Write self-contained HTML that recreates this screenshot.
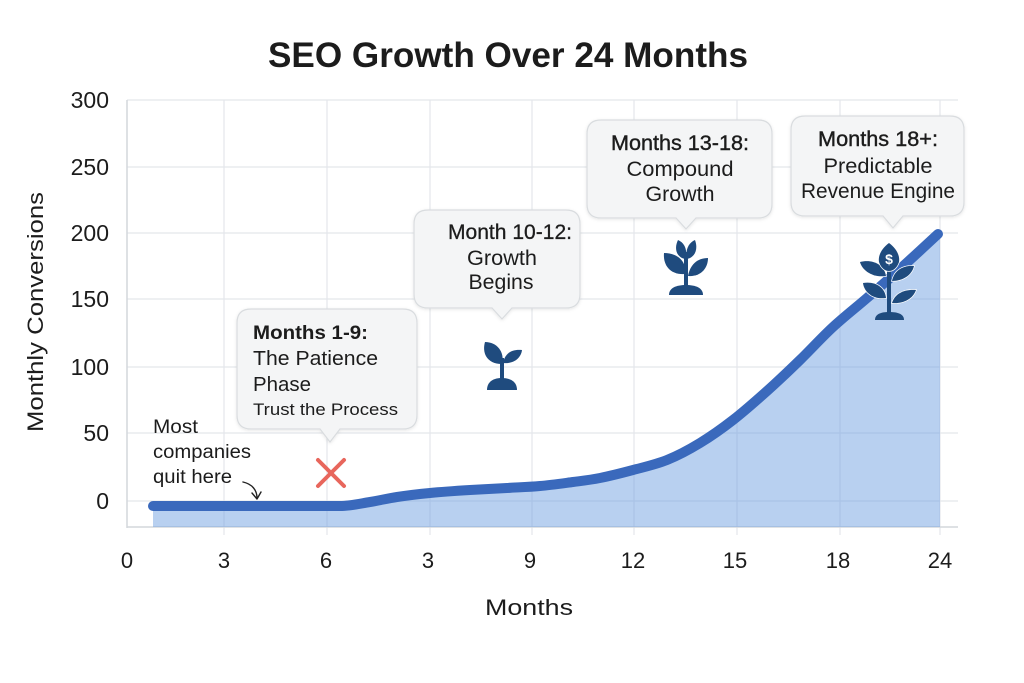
<!DOCTYPE html>
<html><head><meta charset="utf-8"><style>
html,body{margin:0;padding:0;background:#fff;}
svg{display:block;}
text{font-family:"Liberation Sans",Arial,sans-serif;fill:#1c1c1c;}
</style></head><body>
<svg width="1024" height="683" viewBox="0 0 1024 683" xmlns="http://www.w3.org/2000/svg">
<defs>
<filter id="sh" x="-10%" y="-10%" width="120%" height="130%"><feDropShadow dx="0" dy="1" stdDeviation="1.5" flood-color="#000" flood-opacity="0.10"/></filter>
</defs>
<rect width="1024" height="683" fill="#fff"/>
<!-- title -->
<text x="508" y="67" font-size="35" font-weight="bold" text-anchor="middle" textLength="480" lengthAdjust="spacingAndGlyphs">SEO Growth Over 24 Months</text>

<!-- grid -->
<g stroke="#e4e7eb" stroke-width="1.2">
<line x1="127" y1="100" x2="958" y2="100"/>
<line x1="127" y1="167" x2="958" y2="167"/>
<line x1="127" y1="233" x2="958" y2="233"/>
<line x1="127" y1="299" x2="958" y2="299"/>
<line x1="127" y1="367" x2="958" y2="367"/>
<line x1="127" y1="433" x2="958" y2="433"/>
<line x1="127" y1="501" x2="958" y2="501"/>
<line x1="224" y1="100" x2="224" y2="535"/>
<line x1="327" y1="100" x2="327" y2="535"/>
<line x1="430" y1="100" x2="430" y2="535"/>
<line x1="532" y1="100" x2="532" y2="535"/>
<line x1="634" y1="100" x2="634" y2="535"/>
<line x1="737" y1="100" x2="737" y2="535"/>
<line x1="840" y1="100" x2="840" y2="535"/>
<line x1="940" y1="100" x2="940" y2="535"/>
</g>
<g stroke="#d3d7dc" stroke-width="1.5">
<line x1="127" y1="100" x2="127" y2="528"/>
<line x1="127" y1="527" x2="958" y2="527"/>
</g>

<!-- y tick labels -->
<g font-size="23" text-anchor="end">
<text x="109" y="108">300</text>
<text x="109" y="175">250</text>
<text x="109" y="241">200</text>
<text x="109" y="307">150</text>
<text x="109" y="375">100</text>
<text x="109" y="441">50</text>
<text x="109" y="509">0</text>
</g>
<text transform="translate(43,312) rotate(-90)" font-size="22" text-anchor="middle" textLength="240" lengthAdjust="spacingAndGlyphs">Monthly Conversions</text>

<!-- x tick labels -->
<g font-size="22" text-anchor="middle">
<text x="127" y="568">0</text>
<text x="224" y="568">3</text>
<text x="326" y="568">6</text>
<text x="428" y="568">3</text>
<text x="530" y="568">9</text>
<text x="633" y="568">12</text>
<text x="735" y="568">15</text>
<text x="838" y="568">18</text>
<text x="940" y="568">24</text>
</g>
<text x="529" y="615" font-size="22" text-anchor="middle" textLength="88" lengthAdjust="spacingAndGlyphs">Months</text>

<!-- area fill -->
<path fill="#6a9de0" fill-opacity="0.48" d="M153,506 L340,506 C350,506 360.5,503.5 370,502 C379.5,500.5 387,498.5 397,497 C407,495.5 417.8,494.2 430,493 C442.2,491.8 457.2,490.8 470,490 C482.8,489.2 495.3,488.7 507,488 C518.7,487.3 529,487 540,486 C551,485 563,483.3 573,482 C583,480.7 590,480 600,478 C610,476 621.8,473 633,470 C644.2,467 655.8,464.5 667,460 C678.2,455.5 689,449.7 700,443 C711,436.3 721.8,428.7 733,420 C744.2,411.3 755.8,401 767,391 C778.2,381 789,370.7 800,360 C811,349.3 821.8,337.3 833,327 C844.2,316.7 855.8,307.7 867,298 C878.2,288.3 888.2,279.7 900,269 C911.8,258.3 931.7,239.8 938,234 L940,232 L940,527 L153,527 Z"/>
<!-- line -->
<path fill="none" stroke="#3a69bc" stroke-width="10" stroke-linecap="round" stroke-linejoin="round" d="M153,506 L340,506 C350,506 360.5,503.5 370,502 C379.5,500.5 387,498.5 397,497 C407,495.5 417.8,494.2 430,493 C442.2,491.8 457.2,490.8 470,490 C482.8,489.2 495.3,488.7 507,488 C518.7,487.3 529,487 540,486 C551,485 563,483.3 573,482 C583,480.7 590,480 600,478 C610,476 621.8,473 633,470 C644.2,467 655.8,464.5 667,460 C678.2,455.5 689,449.7 700,443 C711,436.3 721.8,428.7 733,420 C744.2,411.3 755.8,401 767,391 C778.2,381 789,370.7 800,360 C811,349.3 821.8,337.3 833,327 C844.2,316.7 855.8,307.7 867,298 C878.2,288.3 888.2,279.7 900,269 C911.8,258.3 931.7,239.8 938,234"/>

<!-- callouts -->
<g fill="#f4f5f6" stroke="#d9dcdf" stroke-width="1.2" filter="url(#sh)">
<path d="M251,309 H403 Q417,309 417,323 V415 Q417,429 403,429 H340 L330,442 L320,429 H251 Q237,429 237,415 V323 Q237,309 251,309 Z"/>
<path d="M428,210 H566 Q580,210 580,224 V294 Q580,308 566,308 H512 L502,319 L492,308 H428 Q414,308 414,294 V224 Q414,210 428,210 Z"/>
<path d="M601,120 H758 Q772,120 772,134 V204 Q772,218 758,218 H696 L686,229 L676,218 H601 Q587,218 587,204 V134 Q587,120 601,120 Z"/>
<path d="M805,116 H950 Q964,116 964,130 V202 Q964,216 950,216 H903 L893,228 L883,216 H805 Q791,216 791,202 V130 Q791,116 805,116 Z"/>
</g>

<!-- callout 1 text -->
<text x="253" y="339" font-size="19" font-weight="bold" textLength="115" lengthAdjust="spacingAndGlyphs">Months 1-9:</text>
<text x="253" y="365" font-size="20" textLength="125" lengthAdjust="spacingAndGlyphs">The Patience</text>
<text x="253" y="391" font-size="20" textLength="58" lengthAdjust="spacingAndGlyphs">Phase</text>
<text x="253" y="415" font-size="17" textLength="145" lengthAdjust="spacingAndGlyphs">Trust the Process</text>

<!-- callout 2 text -->
<g font-size="21" text-anchor="middle">
<text x="510" y="239" stroke="#1c1c1c" stroke-width="0.3" textLength="124" lengthAdjust="spacingAndGlyphs">Month 10-12:</text>
<text x="502" y="265" textLength="70" lengthAdjust="spacingAndGlyphs">Growth</text>
<text x="501" y="289" textLength="65" lengthAdjust="spacingAndGlyphs">Begins</text>
</g>
<!-- callout 3 text -->
<g font-size="21" text-anchor="middle">
<text x="680" y="150" stroke="#1c1c1c" stroke-width="0.4" textLength="138" lengthAdjust="spacingAndGlyphs">Months 13-18:</text>
<text x="680" y="176" textLength="107" lengthAdjust="spacingAndGlyphs">Compound</text>
<text x="680" y="201" textLength="69" lengthAdjust="spacingAndGlyphs">Growth</text>
</g>
<!-- callout 4 text -->
<g font-size="21" text-anchor="middle">
<text x="878" y="146" stroke="#1c1c1c" stroke-width="0.4" textLength="120" lengthAdjust="spacingAndGlyphs">Months 18+:</text>
<text x="878" y="173" textLength="109" lengthAdjust="spacingAndGlyphs">Predictable</text>
<text x="878" y="198" textLength="154" lengthAdjust="spacingAndGlyphs">Revenue Engine</text>
</g>

<!-- most companies quit here -->
<g font-size="19">
<text x="153" y="433" textLength="45" lengthAdjust="spacingAndGlyphs">Most</text>
<text x="153" y="458" textLength="98" lengthAdjust="spacingAndGlyphs">companies</text>
<text x="153" y="483" textLength="79" lengthAdjust="spacingAndGlyphs">quit here</text>
</g>
<path d="M243,482 C252,484 257,490 257,498" fill="none" stroke="#222" stroke-width="1.4" stroke-linecap="round"/>
<path d="M252,493 L257,499 L261,492" fill="none" stroke="#222" stroke-width="1.4" stroke-linecap="round" stroke-linejoin="round"/>

<!-- red X -->
<g stroke="#e8665c" stroke-width="4" stroke-linecap="round">
<line x1="318" y1="460" x2="344" y2="486"/>
<line x1="344" y1="460" x2="318" y2="486"/>
</g>

<!-- plant 1 -->
<g fill="#1f4b7e">
<path d="M502,364 C486,364 482,352 485,342 C497,342 505,352 502,364 Z"/>
<path d="M503,363 C505,353 512,349 522,350 C521,358 514,364 503,363 Z"/>
<rect x="500" y="358" width="4" height="24"/>
<path d="M487,390 C487,382 493,378 502,378 C511,378 517,382 517,390 Z"/>
</g>

<!-- plant 2 -->
<g fill="#1f4b7e">
<path d="M685,259 C676,257 674,248 678,240 C685,243 688,251 685,259 Z"/>
<path d="M687,259 C696,257 698,248 695,240 C688,243 685,251 687,259 Z"/>
<path d="M685,274 C669,275 663,264 664,253 C677,253 687,261 685,274 Z"/>
<path d="M688,276 C690,265 697,258 708,258 C708,268 701,277 688,276 Z"/>
<rect x="684" y="252" width="4" height="36"/>
<path d="M669,295 C669,288 676,285 686,285 C696,285 703,288 703,295 Z"/>
</g>

<!-- plant 3 -->
<g fill="#1f4b7e" stroke="#fff" stroke-width="1.5" paint-order="stroke">
<path d="M886,276 C872,278 862,270 860,262 C872,259 884,264 886,276 Z"/>
<path d="M892,281 C894,270 904,265 914,266 C912,275 903,281 892,281 Z"/>
<path d="M886,298 C873,300 864,292 863,283 C875,281 885,287 886,298 Z"/>
<path d="M892,303 C895,293 905,289 916,290 C913,299 903,304 892,303 Z"/>
<rect x="887" y="266" width="4" height="48" stroke="none"/>
<path d="M875,320 C875,314 881,312 889,312 C898,312 904,314 904,320 Z" stroke="none"/>
<path d="M889,243 C897,249 900,256 899,262 C897,268 893,271 889,271 C885,271 881,268 879,262 C878,256 881,249 889,243 Z"/>
</g>
<text x="889" y="264" font-size="14" font-weight="bold" text-anchor="middle" style="fill:#fff">$</text>
</svg>
</body></html>
